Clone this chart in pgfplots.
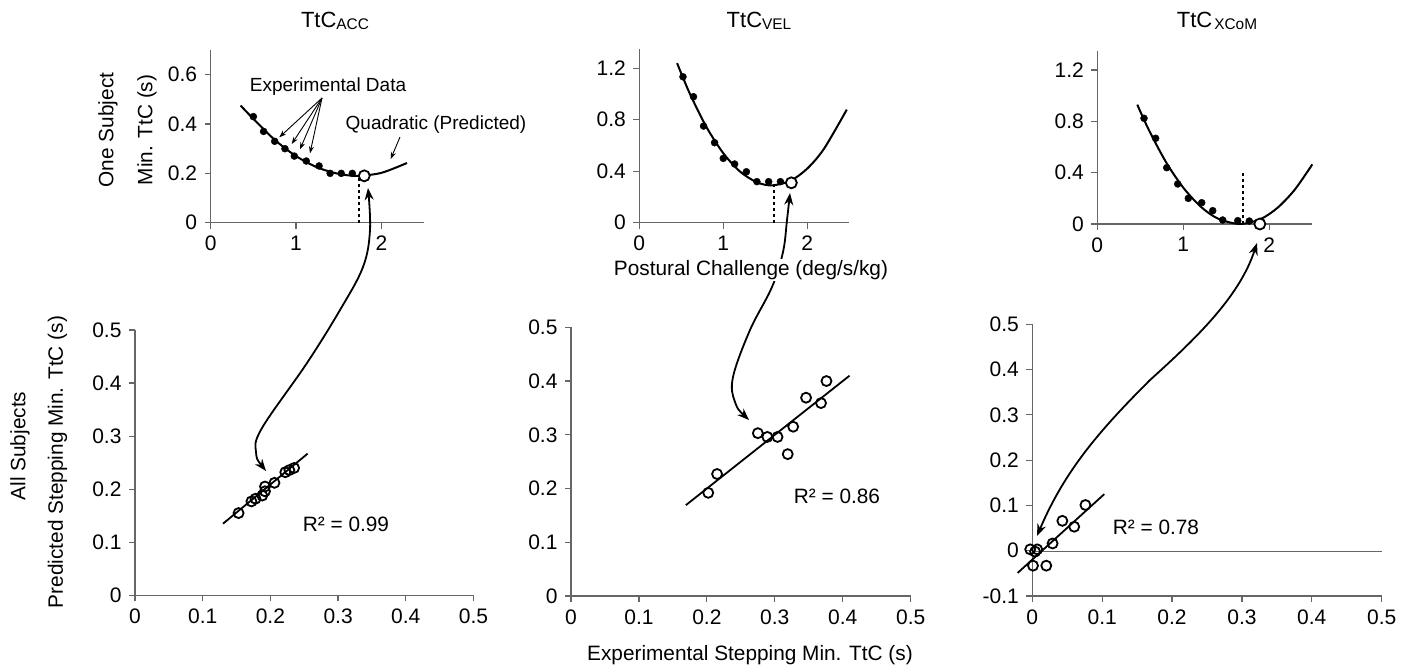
\documentclass[border=0pt]{standalone}
\usepackage{fontspec}
\setmainfont{Liberation Sans}
\usepackage{pgfplots}
\pgfplotsset{compat=1.18}
\usetikzlibrary{arrows.meta}

\newcommand\tk{\fontsize{21}{24}\selectfont}
\newcommand\lb{\fontsize{20.8}{24}\selectfont}
\newcommand\an{\fontsize{19}{22}\selectfont}
\newcommand\ttl[1]{\fontsize{22}{26}\selectfont TtC\raisebox{-2.5pt}{\fontsize{15.4}{18}\selectfont #1}}

\pgfplotsset{panel/.style={scale only axis, anchor=south west, clip=false,
  axis x line*=bottom, axis y line*=left, tick align=outside, major tick length=6pt,
  axis line style={black!60, line width=1.2pt}, tick style={black!60, line width=1.2pt},
  tick label style={font=\tk}, xticklabel style={yshift=-4pt}, yticklabel style={xshift=-4pt}}}
\tikzset{bigarrow/.style={line width=1.8pt, {Stealth[length=12pt,width=9pt]}-{Stealth[length=12pt,width=9pt]}},
  thin/.style={line width=0.9pt, -{Stealth[length=7pt,width=5pt]}}}

\begin{document}
\begin{tikzpicture}
\useasboundingbox (0pt,0pt) rectangle (1411pt,-672pt);

% one subject, ACC
\begin{axis}[panel, at={(210.7pt,-222.7pt)}, width=213.3pt, height=172.7pt,
  xmin=0, xmax=2.5, ymin=0, ymax=0.7,
  xtick={0,1,2}, xticklabels={0,1,2}, ytick={0,0.2,0.4,0.6}, yticklabels={0,0.2,0.4,0.6}]
\addplot[dash pattern=on 3pt off 3pt, line width=2pt] coordinates {(1.74,0) (1.74,0.19)};
\addplot[smooth, line width=2pt] coordinates {(0.35,0.475) (0.5,0.421) (0.75,0.336) (1.0,0.270) (1.25,0.224) (1.5,0.198) (1.72,0.19) (2.0,0.202) (2.3,0.242)};
\addplot[only marks, mark=*, mark size=3.5pt] coordinates {(0.50,0.43) (0.62,0.37) (0.75,0.33) (0.87,0.30) (0.98,0.27) (1.12,0.25) (1.27,0.23) (1.40,0.20) (1.53,0.20) (1.66,0.20)};
\addplot[only marks, mark=*, mark size=5.5pt, mark options={fill=white, draw=black, line width=1.8pt}] coordinates {(1.80,0.19)};
\end{axis}

% one subject, VEL
\begin{axis}[panel, at={(639.3pt,-222.7pt)}, width=210pt, height=173.7pt,
  xmin=0, xmax=2.5, ymin=0, ymax=1.35,
  xtick={0,1,2}, xticklabels={0,1,2}, ytick={0,0.4,0.8,1.2}, yticklabels={0,0.4,0.8,1.2}]
\addplot[dash pattern=on 3pt off 3pt, line width=2pt] coordinates {(1.60,0) (1.60,0.29)};
\addplot[smooth, line width=2pt] coordinates {(0.45,1.240) (0.6,1.005) (0.8,0.743) (1.0,0.540) (1.2,0.397) (1.4,0.314) (1.58,0.29) (1.8,0.326) (2.0,0.421) (2.2,0.576) (2.47,0.879)};
\addplot[only marks, mark=*, mark size=3.5pt] coordinates {(0.52,1.134) (0.645,0.979) (0.765,0.751) (0.896,0.622) (1.0,0.500) (1.135,0.456) (1.275,0.396) (1.40,0.319) (1.54,0.319) (1.68,0.319)};
\addplot[only marks, mark=*, mark size=5.5pt, mark options={fill=white, draw=black, line width=1.8pt}] coordinates {(1.81,0.31)};
\end{axis}

% one subject, XCoM
\begin{axis}[panel, at={(1097.3pt,-224pt)}, width=215pt, height=173.2pt,
  xmin=0, xmax=2.5, ymin=0, ymax=1.35,
  xtick={0,1,2}, xticklabels={0,1,2}, ytick={0,0.4,0.8,1.2}, yticklabels={0,0.4,0.8,1.2}]
\addplot[dash pattern=on 3pt off 3pt, line width=2pt] coordinates {(1.69,0) (1.69,0.40)};
\addplot[smooth, line width=2pt] coordinates {(0.465,0.93) (0.6,0.732) (0.8,0.481) (1.0,0.283) (1.2,0.137) (1.4,0.043) (1.657,0.0) (1.9,0.039) (2.1,0.129) (2.3,0.271) (2.5,0.465)};
\addplot[only marks, mark=*, mark size=3.5pt] coordinates {(0.543,0.824) (0.678,0.668) (0.807,0.439) (0.935,0.312) (1.058,0.200) (1.214,0.166) (1.342,0.104) (1.458,0.031) (1.633,0.026) (1.767,0.023)};
\addplot[only marks, mark=*, mark size=5.5pt, mark options={fill=white, draw=black, line width=1.8pt}] coordinates {(1.89,0.0)};
\end{axis}

% all subjects, ACC
\begin{axis}[panel, at={(135pt,-595.3pt)}, width=338.5pt, height=265.3pt,
  xmin=0, xmax=0.5, ymin=0, ymax=0.5,
  xtick={0,0.1,0.2,0.3,0.4,0.5}, xticklabels={0,0.1,0.2,0.3,0.4,0.5},
  ytick={0,0.1,0.2,0.3,0.4,0.5}, yticklabels={0,0.1,0.2,0.3,0.4,0.5}]
\addplot[line width=1.8pt] coordinates {(0.13,0.135) (0.255,0.267)};
\addplot[only marks, mark=o, mark size=5pt, mark options={line width=1.8pt}] coordinates {(0.153,0.155) (0.172,0.177) (0.178,0.182) (0.188,0.188) (0.192,0.196) (0.192,0.205) (0.206,0.212) (0.222,0.232) (0.228,0.236) (0.235,0.240)};
\end{axis}

% all subjects, VEL
\begin{axis}[panel, at={(571pt,-596pt)}, width=339.7pt, height=268.7pt,
  xmin=0, xmax=0.5, ymin=0, ymax=0.5,
  xtick={0,0.1,0.2,0.3,0.4,0.5}, xticklabels={0,0.1,0.2,0.3,0.4,0.5},
  ytick={0,0.1,0.2,0.3,0.4,0.5}, yticklabels={0,0.1,0.2,0.3,0.4,0.5}]
\addplot[line width=1.8pt] coordinates {(0.169,0.169) (0.41,0.41)};
\addplot[only marks, mark=o, mark size=5pt, mark options={line width=1.8pt}] coordinates {(0.202,0.192) (0.215,0.227) (0.275,0.303) (0.289,0.296) (0.304,0.296) (0.319,0.264) (0.327,0.315) (0.346,0.369) (0.368,0.359) (0.376,0.400)};
\end{axis}

% all subjects, XCoM
\begin{axis}[panel, at={(1032.3pt,-596pt)}, width=349.4pt, height=271.7pt,
  xmin=0, xmax=0.5, ymin=-0.1, ymax=0.5,
  xtick={0,0.1,0.2,0.3,0.4,0.5}, xticklabels={0,0.1,0.2,0.3,0.4,0.5},
  ytick={-0.1,0,0.1,0.2,0.3,0.4,0.5}, yticklabels={-0.1,0,0.1,0.2,0.3,0.4,0.5}]
\addplot[black!60, line width=1.2pt] coordinates {(0,-0.002) (0.5,-0.002)};
\addplot[line width=1.8pt] coordinates {(-0.021,-0.049) (0.103,0.125)};
\addplot[only marks, mark=o, mark size=5pt, mark options={line width=1.8pt}] coordinates {(-0.003,0.003) (0.004,-0.002) (0.007,0.003) (0.001,-0.033) (0.020,-0.033) (0.029,0.016) (0.043,0.066) (0.060,0.053) (0.076,0.101)};
\end{axis}

\begin{scope}[x=1pt, y=-1pt]
% titles
\node[anchor=base] at (335,27) {\ttl{ACC}};
\node[anchor=base] at (759,27) {\ttl{VEL}};
\node[anchor=base] at (1217,27) {\ttl{\kern2pt XCoM}};
% row labels
\node[rotate=90, font=\lb] at (108,130) {One Subject};
\node[rotate=90, font=\lb] at (147,130) {Min. TtC (s)};
\node[rotate=90, font=\lb] at (20,446) {All Subjects};
\node[rotate=90, font=\lb] at (57.5,462) {Predicted Stepping Min. TtC (s)};
\node[font=\lb] at (750,655) {Experimental Stepping Min. TtC (s)};
% R squared
\node[font=\lb] at (346,524) {R² = 0.99};
\node[font=\lb] at (837,496) {R² = 0.86};
\node[font=\lb] at (1156,527) {R² = 0.78};
% callouts
\node[font=\an] at (328,87) {Experimental Data};
\node[font=\an] at (436,125) {Quadratic (Predicted)};
\draw[thin] (322,98) -- (279.3,137.3);
\draw[thin] (322,98) -- (291.7,144);
\draw[thin] (322,98) -- (300,149.3);
\draw[thin] (322,98) -- (310,153.3);
\draw[thin] (400,137) -- (390.7,159);
% linking arrows
\draw[bigarrow] plot[smooth, tension=0.6] coordinates {(266,471) (256,452) (262,428) (307,363) (340,310) (363,267) (370,230) (368,188)};
\draw[bigarrow] plot[smooth, tension=0.6] coordinates {(749,420) (735,402) (733,377) (750,330) (772,287) (783,252) (787,220) (790,193)};
\node[font=\lb, fill=white, inner sep=1pt] at (751,270) {Postural Challenge (deg/s/kg)};
\draw[bigarrow] (1037,536) .. controls (1065,470) and (1100,430) .. (1150,380) .. controls (1200,335) and (1240,295) .. (1257,243);
\end{scope}
\end{tikzpicture}
\end{document}
